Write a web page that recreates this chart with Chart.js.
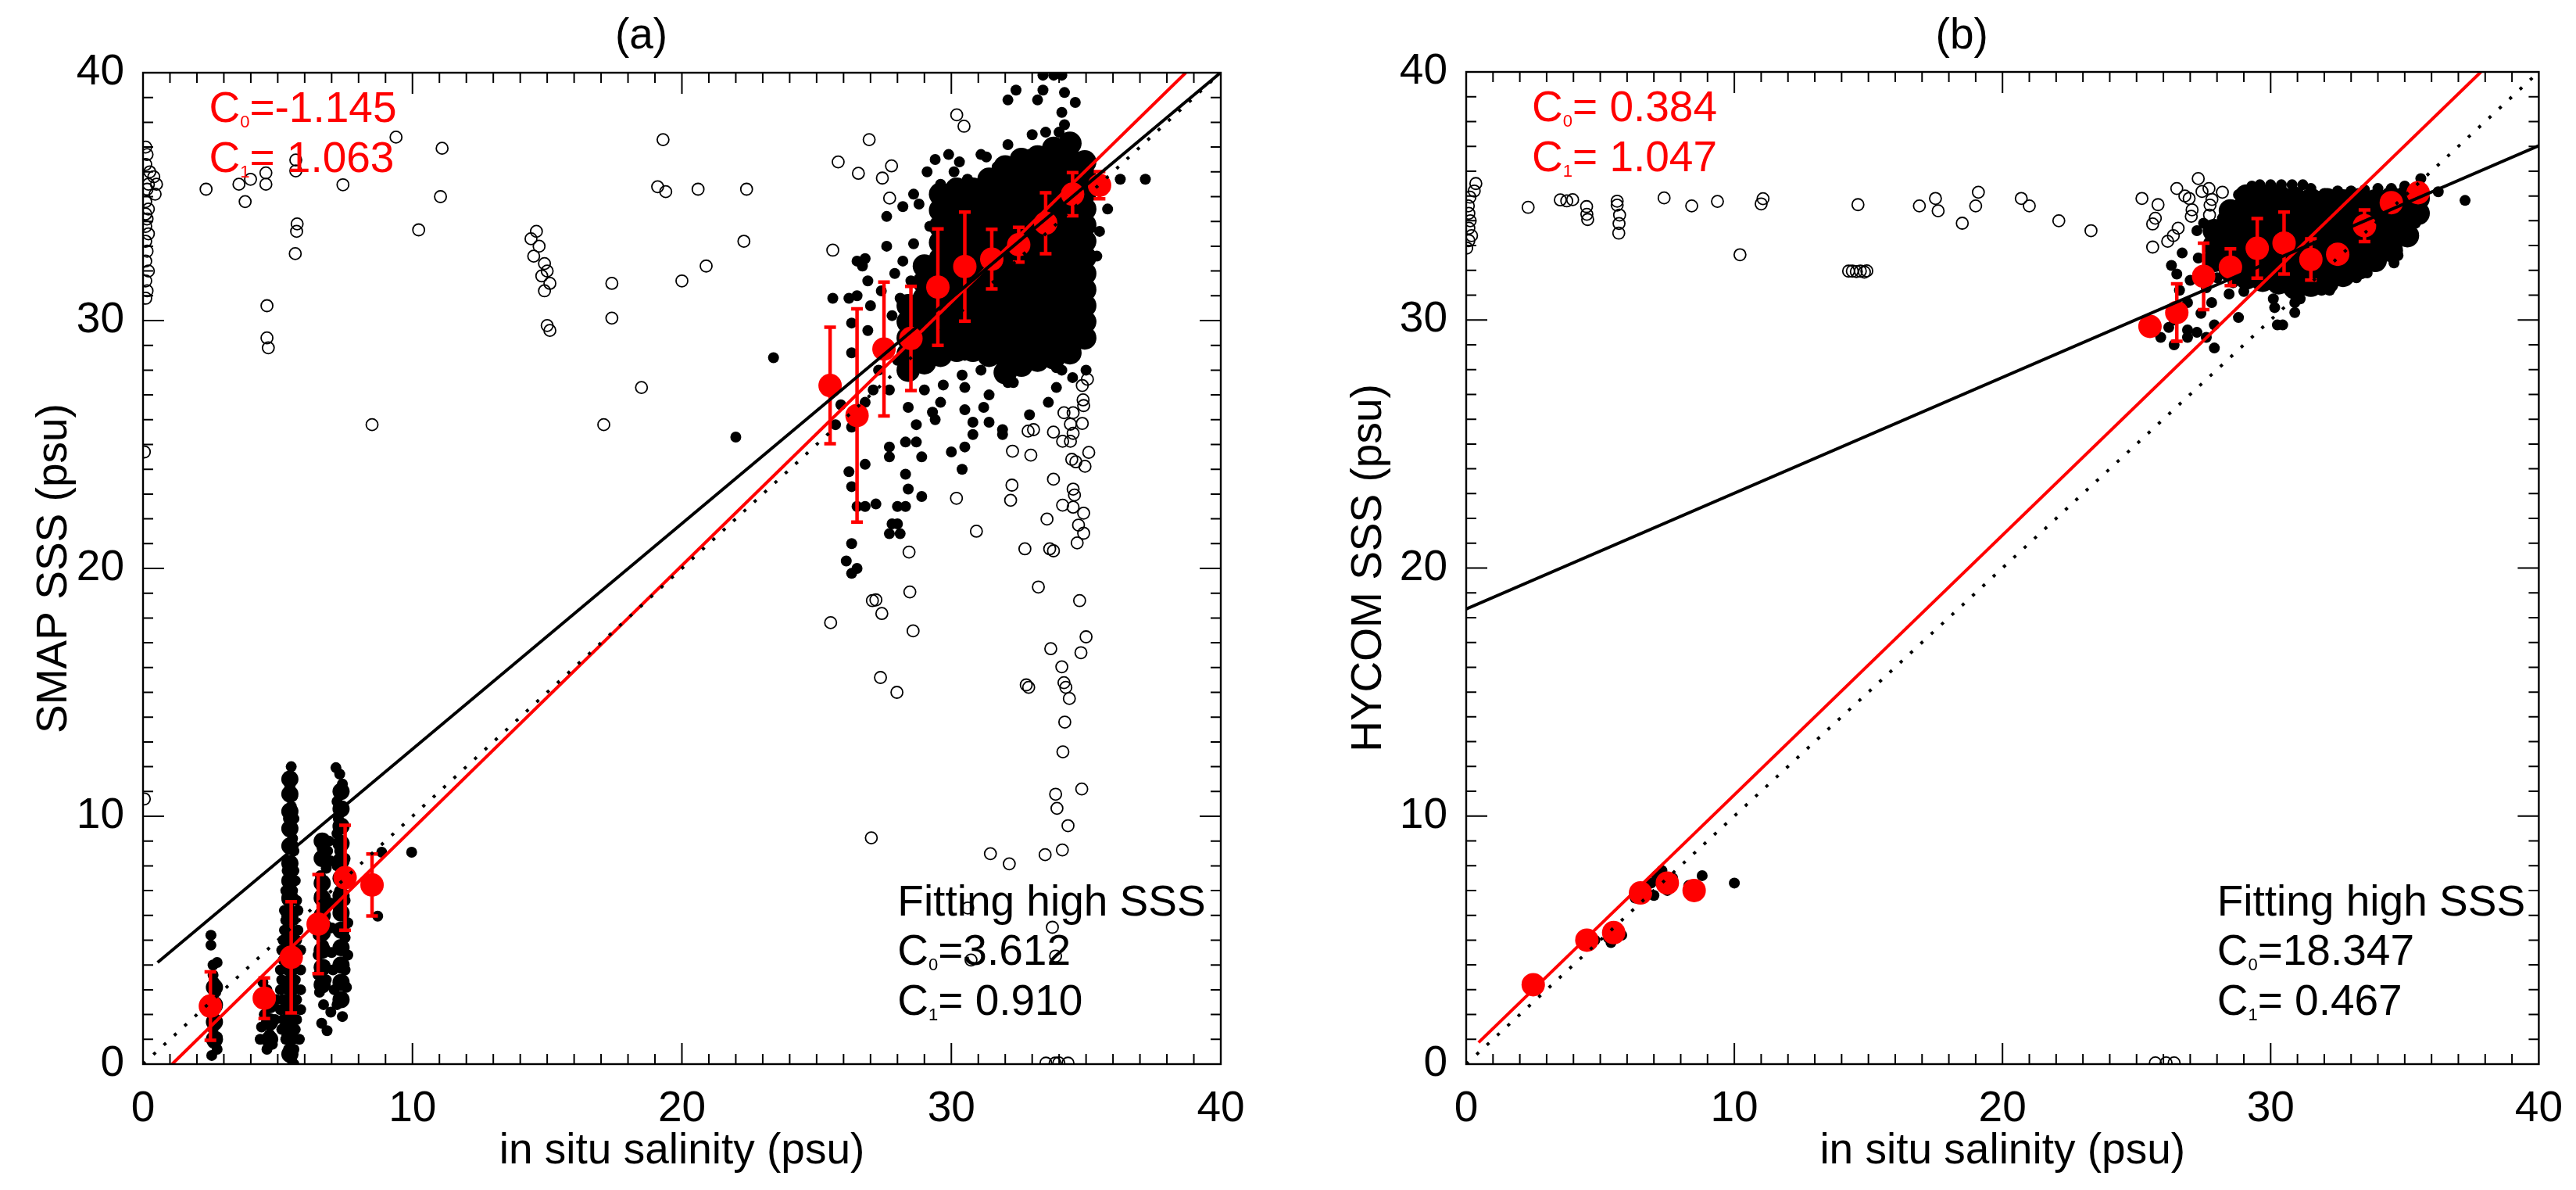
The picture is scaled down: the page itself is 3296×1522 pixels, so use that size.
<!DOCTYPE html>
<html>
<head>
<meta charset="utf-8">
<script src="https://cdn.jsdelivr.net/npm/chart.js@4.4.1/dist/chart.umd.min.js"></script>
<style>
  html, body { margin: 0; padding: 0; background: #fff; }
  body { width: 3296px; height: 1522px; position: relative; overflow: hidden; }
  .panel { position: absolute; top: 0; width: 1648px; height: 1522px; }
</style>
</head>
<body>
<div class="panel" style="left:0"><canvas id="chartA"></canvas></div>
<div class="panel" style="left:1648px"><canvas id="chartB"></canvas></div>
<script>
// ---- data (psu) ----
const binX = [2.5, 4.5, 5.5, 6.5, 7.5, 8.5, 25.5, 26.5, 27.5, 28.5, 29.5, 30.5, 31.5, 32.5, 33.5, 34.5, 35.5];

// panel (a): SMAP vs in situ
const binMeanA = [2.34, 2.66, 4.31, 5.65, 7.52, 7.23, 27.38, 26.17, 28.85, 29.28, 31.35, 32.18, 32.48, 33.06, 33.93, 35.1, 35.46];
const binSdA = [1.38, 0.82, 2.24, 2.0, 2.12, 1.25, 2.35, 4.3, 2.7, 2.1, 2.35, 2.2, 1.2, 0.7, 1.23, 0.87, 0.55];

const openA = [
  [0.1,37.0],[0.15,36.7],[0.1,36.3],[0.25,36.0],[0.4,35.8],[0.2,35.5],[0.5,35.5],[0.15,35.3],[0.45,35.1],[0.1,34.8],
  [0.2,34.5],[0.1,34.3],[0.15,34.1],[0.1,33.8],[0.2,33.5],[0.1,33.2],[0.15,32.8],[0.1,32.4],[0.2,32.0],[0.1,31.6],
  [0.15,31.2],[0.1,30.9],[0.05,24.7],[0.05,10.7],
  [2.34,35.3],[3.56,35.5],[3.79,34.8],[3.99,35.7],[4.56,35.96],[4.56,35.5],[4.6,30.6],[4.6,29.3],[4.65,28.9],
  [5.67,36.48],[5.67,36.04],[5.72,33.9],[5.7,33.6],[5.65,32.7],[7.42,35.48],[9.39,37.4],[10.23,33.66],[11.1,36.95],
  [11.04,35.0],[8.5,25.8],[14.6,33.6],[14.4,33.3],[14.7,33.0],[14.5,32.6],[14.9,32.3],[15.0,32.0],[14.8,31.8],
  [15.1,31.5],[14.9,31.2],[15.0,29.8],[15.1,29.6],[17.1,25.8],[17.4,30.1],[17.4,31.5],[18.5,27.3],[19.1,35.4],
  [19.4,35.2],[19.3,37.3],[20.0,31.6],[20.6,35.3],[20.9,32.2],[22.3,33.2],[22.4,35.3],
  [30.2,38.3],[30.47,37.84],[26.95,37.3],[25.8,36.4],[26.55,35.94],[27.78,36.24],[27.44,35.75],[27.71,34.94],[25.6,32.84],
  [34.86,27.38],[35.05,27.63],[34.89,26.8],[34.91,26.57],[34.18,26.28],[34.52,26.28],[34.86,25.85],[34.42,25.82],
  [33.79,25.5],[34.52,25.45],[34.13,25.13],[34.42,25.13],[32.85,25.54],[33.05,25.6],[35.1,24.68],[34.47,24.4],
  [34.62,24.3],[34.96,24.12],[33.79,23.6],[34.52,23.2],[34.57,22.96],[34.13,22.55],[34.52,22.47],[34.91,22.23],
  [33.55,21.99],[34.72,21.75],[34.91,21.42],[34.67,21.03],[33.65,20.79],[33.79,20.71],[32.73,20.79],[33.23,19.25],
  [34.76,18.7],[35.0,17.24],[33.69,16.76],[34.81,16.6],[34.1,16.03],[34.18,15.39],[32.78,15.3],[32.27,24.73],
  [32.95,24.57],[32.25,23.36],[32.2,22.75],[30.19,22.83],[30.93,21.5],[28.43,20.66],[28.46,19.05],[27.07,18.7],
  [27.2,18.73],[27.42,18.18],[25.52,17.81],[28.58,17.48],[27.37,15.6],[27.98,15.0],
  [34.38,14.75],[34.21,13.8],[34.14,12.6],[34.84,11.1],[33.87,10.89],[33.92,10.32],[34.33,9.62],[27.03,9.13],
  [31.45,8.49],[32.15,8.08],[33.48,8.45],[34.12,8.64],[30.61,6.3],[33.75,5.52],[30.73,4.2],[33.87,4.36],
  [33.51,0.04],[33.85,0.04],[33.99,0.05],[34.33,0.04],[32.87,15.2],[34.25,15.2]
];

const dotsA = [
  // x ~ 2.5
  [2.52,5.2],[2.52,4.8],[2.6,4.0],[2.75,4.1],[2.6,3.6],[2.65,3.3],[2.7,2.9],[2.6,2.6],[2.75,2.3],[2.6,2.0],
  [2.7,1.7],[2.6,1.4],[2.75,1.1],[2.6,0.85],[2.55,0.35],[2.75,0.6],
  // x ~ 4.5
  [4.35,1.0],[4.4,1.5],[4.5,2.0],[4.55,2.5],[4.6,3.0],[4.45,3.3],[4.7,1.2],[4.8,0.8],[4.9,1.8],[4.95,2.6],[4.6,0.6],
  // x ~ 5.5
  [5.5,12.0],[5.5,11.6],[5.45,11.2],[5.55,10.8],[5.5,10.4],[5.4,9.9],[5.6,9.9],[5.45,9.5],[5.55,9.1],[5.4,8.7],
  [5.6,8.6],[5.5,8.2],[5.35,7.8],[5.6,7.8],[5.4,7.4],[5.65,7.4],[5.3,7.0],[5.55,7.0],[5.35,6.6],[5.7,6.6],
  [5.25,6.2],[5.5,6.2],[5.75,6.2],[5.3,5.8],[5.6,5.8],[5.25,5.4],[5.5,5.4],[5.75,5.4],[5.2,5.0],[5.45,5.0],
  [5.7,5.0],[5.15,4.6],[5.4,4.6],[5.65,4.6],[5.85,4.6],[5.2,4.2],[5.45,4.2],[5.7,4.2],[5.1,3.8],[5.35,3.8],
  [5.6,3.8],[5.85,3.8],[5.15,3.4],[5.4,3.4],[5.65,3.4],[5.1,3.0],[5.35,3.0],[5.6,3.0],[5.85,3.0],[5.2,2.6],
  [5.45,2.6],[5.7,2.6],[5.1,2.2],[5.35,2.2],[5.6,2.2],[5.85,2.2],[5.2,1.8],[5.45,1.8],[5.7,1.8],[5.15,1.4],
  [5.4,1.4],[5.65,1.4],[5.3,1.0],[5.55,1.0],[5.8,1.0],[5.4,0.6],[5.6,0.6],[5.5,0.2],[5.6,0.0],
  // x ~ 6.5 - 7.5
  [6.58,7.6],[6.7,7.2],[6.55,6.8],[6.75,6.4],[6.55,6.0],[6.8,5.6],[6.5,5.2],[6.7,4.8],[6.5,4.4],[6.75,4.0],
  [6.5,3.6],[6.6,3.2],[6.55,2.9],[6.8,3.4],[6.63,1.65],[6.83,1.35],[6.97,2.1],[6.7,2.4],
  [6.7,9.1],[6.9,9.0],[6.65,8.7],[6.85,8.6],[6.7,8.3],[6.95,8.2],[6.8,7.9],
  [7.16,11.96],[7.3,11.7],[7.4,11.3],[7.35,11.0],[7.2,10.6],[7.4,10.3],[7.25,9.9],[7.45,9.6],[7.2,9.3],[7.4,9.0],
  [7.3,8.6],[7.5,8.3],[7.2,8.0],[7.4,7.7],[7.55,7.3],[7.3,7.0],[7.5,6.6],[7.25,6.3],[7.45,6.0],[7.6,5.7],
  [7.3,5.4],[7.5,5.1],[7.35,4.7],[7.6,4.4],[7.3,4.1],[7.5,3.8],[7.35,3.4],[7.55,3.1],[7.4,2.7],[7.2,2.4],
  [7.4,1.92],[7.1,3.0],[7.0,4.5],[7.0,5.5],[6.95,6.5],[7.05,3.8],
  [8.71,5.97],[8.86,8.55],[9.97,8.55],
  // high salinity cloud
  [33.4,39.9],[33.8,39.9],[34.1,39.9],[32.4,39.3],[32.1,38.9],[33.2,38.9],[33.4,39.3],[34.2,39.2],[34.6,38.8],
  [34.1,38.4],[34.2,37.9],[34.0,37.6],[29.9,36.7],[31.1,36.7],[31.3,36.6],[31.7,36.2],[32.1,37.1],[33.0,37.5],
  [33.5,37.6],[32.9,36.7],[36.27,35.7],[37.2,35.7],[35.8,34.5],[35.5,33.6],[35.4,32.6],[28.6,35.1],[28.8,34.7],
  [27.6,33.0],[26.8,32.5],[26.5,32.4],[26.7,32.2],[25.6,30.9],[26.2,30.9],[26.5,31.0],[26.9,31.6],[26.3,28.7],
  [25.9,26.6],[25.7,25.8],[26.3,25.7],[26.8,26.7],[27.1,27.2],[27.7,27.2],[27.7,24.9],[27.7,24.5],[28.3,25.1],
  [28.7,25.1],[28.9,24.5],[28.4,26.5],[28.7,25.8],[29.3,26.3],[29.6,26.7],[29.4,26.0],[29.0,27.2],[29.7,27.4],
  [30.4,27.8],[30.5,27.3],[30.5,28.6],[31.1,28.0],[31.4,27.0],[30.5,26.4],[30.8,25.9],[30.8,25.4],[31.4,25.9],
  [31.9,25.6],[31.9,25.4],[31.2,26.5],[30.0,24.7],[30.5,24.9],[30.4,24.0],[26.2,23.9],[26.8,24.2],[26.3,23.3],
  [26.5,22.5],[26.8,22.5],[27.2,22.6],[27.8,21.8],[28.0,21.8],[27.7,21.4],[28.1,21.4],[28.0,22.5],[28.3,22.5],
  [28.3,23.8],[28.4,23.2],[28.9,22.9],[26.3,21.0],[26.1,20.3],[26.3,19.8],[26.5,20.0],[33.6,26.7],[33.9,27.3],
  [32.9,26.2],[33.9,28.1],[34.1,28.0],[34.5,27.7],[35.0,28.0],[34.5,28.6],[32.1,27.5],[32.1,28.1],[32.4,28.1],
  [32.0,29.1],[32.9,28.7],[31.7,29.0],[31.6,29.8],[30.8,29.4],[22.0,25.3],[23.4,28.5],
  [27.9,31.9],[28.2,32.4],[28.6,33.1],[28.1,30.9],[28.5,31.6],[27.8,30.2],[28.3,29.6],[27.6,29.0],[28.0,28.4],
  [28.6,28.0],[27.4,31.2],[27.3,28.0],[28.9,29.2],[29.2,30.1],[29.2,33.8],[29.6,35.5],[29.1,36.0],[30.1,36.0],
  [30.6,35.7],[31.3,35.9],[26.9,29.6],[27.0,30.6],[26.3,29.9],[27.6,34.2],[28.2,34.6],[29.4,36.5],[30.3,36.4],
  [32.0,28.4],[32.2,27.9],[32.3,27.5]
];

// solid parts of the clouds, drawn with larger marks: one x per column, the y values of that column
const denseAx = [28.4, 29.0, 29.6, 30.2, 30.8, 31.4, 32.0, 32.6, 33.2, 33.8, 34.4, 34.95];
const denseAy = [
  [28.0, 28.65, 29.3, 29.95, 30.6],
  [28.3, 28.95, 29.6, 30.25, 30.9, 31.55, 32.2],
  [28.6, 29.25, 29.9, 30.55, 31.2, 31.85, 32.5, 33.15, 33.8, 34.45, 35.1],
  [28.8, 29.45, 30.1, 30.75, 31.4, 32.05, 32.7, 33.35, 34.0, 34.65, 35.3],
  [28.8, 29.45, 30.1, 30.75, 31.4, 32.05, 32.7, 33.35, 34.0, 34.65, 35.3],
  [28.6, 29.25, 29.9, 30.55, 31.2, 31.85, 32.5, 33.15, 33.8, 34.45, 35.1, 35.7],
  [27.9, 28.55, 29.2, 29.85, 30.5, 31.15, 31.8, 32.45, 33.1, 33.75, 34.4, 35.05, 35.7, 36.2],
  [28.2, 28.85, 29.5, 30.15, 30.8, 31.45, 32.1, 32.75, 33.4, 34.05, 34.7, 35.35, 36.0, 36.5],
  [28.4, 29.05, 29.7, 30.35, 31.0, 31.65, 32.3, 32.95, 33.6, 34.25, 34.9, 35.55, 36.2, 36.6],
  [28.5, 29.15, 29.8, 30.45, 31.1, 31.75, 32.4, 33.05, 33.7, 34.35, 35.0, 35.65, 36.3, 36.95],
  [28.7, 29.35, 30.0, 30.65, 31.3, 31.95, 32.6, 33.25, 33.9, 34.55, 35.2, 35.85, 36.5, 37.15],
  [29.3, 29.95, 30.6, 31.25, 31.9, 32.55, 33.2, 33.85, 34.5, 35.15, 35.8, 36.4]
];
// solid low-salinity columns of panel (a)
const denseLowAx = [2.65, 4.7, 5.45, 6.65, 7.35];
const denseLowAy = [
  [1.0, 1.7, 2.4, 3.1],
  [1.0, 1.7, 2.4],
  [0.4, 1.1, 1.8, 2.5, 3.2, 3.9, 4.6, 5.3, 6.0, 6.7, 7.4, 8.1, 8.8, 9.5, 10.2, 10.9, 11.5],
  [3.2, 3.9, 4.6, 5.3, 6.0, 6.7, 7.3, 8.3, 9.0],
  [2.6, 3.3, 4.0, 4.7, 5.4, 6.1, 6.8, 7.5, 8.2, 8.9, 9.6, 10.3, 11.0]
];

// panel (b): HYCOM vs in situ
const binMeanB = [3.2, 5.0, 5.3, 6.9, 7.3, 7.0, 29.74, 30.3, 31.76, 32.13, 32.89, 33.1, 32.44, 32.65, 33.8, 34.73, 35.13];
const binSdB = [0.1, 0.1, 0.15, 0.2, 0.2, 0.15, 0.15, 1.16, 1.34, 0.74, 1.2, 1.25, 0.83, 0.3, 0.64, 0.3, 0.3];

const openB = [
  [0.36,35.5],[0.3,35.2],[0.14,34.95],[0.08,34.6],[0.1,34.3],[0.15,34.0],[0.1,33.7],[0.2,33.4],[0.02,32.9],[0.1,33.2],
  [2.31,34.54],[3.51,34.84],[3.75,34.8],[3.97,34.85],[4.49,34.57],[4.5,34.26],[4.53,34.05],[5.63,34.79],[5.63,34.63],
  [5.72,34.23],[5.7,33.89],[5.69,33.5],[7.38,34.92],[8.41,34.6],[9.37,34.78],[10.21,32.63],[11.07,34.89],[11.0,34.68],
  [14.26,31.97],[14.4,31.97],[14.55,31.95],[14.7,31.97],[14.85,31.93],[14.94,31.98],[14.61,34.65],[16.9,34.6],
  [17.5,34.9],[17.6,34.4],[18.5,33.9],[19.1,35.15],[19.0,34.6],[20.7,34.9],[21.0,34.6],[22.1,34.0],[23.3,33.6],
  [25.2,34.9],[25.7,34.1],[26.5,35.3],[26.8,35.0],[27.3,35.7],[27.7,35.3],[28.2,35.15],
  [25.8,34.65],[25.6,33.87],[25.6,32.94],[26.16,33.17],[26.37,33.4],[26.55,33.7],[26.96,34.9],[27.07,34.44],
  [27.04,34.18],[27.44,35.18],[27.81,34.86],[27.74,34.63],[27.72,34.23],
  [25.7,0.05],[26.1,0.05],[26.4,0.05]
];

const dotsB = [
  [2.5,3.3],[2.6,3.1],[4.3,5.0],[4.8,5.0],[4.6,5.2],[5.3,5.1],[5.8,5.2],[5.6,5.5],[5.4,4.9],[6.3,6.7],[6.6,7.0],
  [6.9,7.3],[7.0,6.8],[7.1,7.6],[7.3,7.8],[7.7,7.5],[7.5,7.0],[8.3,7.2],[8.8,7.6],[8.6,6.8],[10.0,7.3],
  [28.8,35.05],[28.8,34.5],[27.25,33.6],[26.7,32.7],[26.3,32.2],[26.5,31.85],[27.8,30.7],[27.4,30.27],[28.45,31.05],
  [29.0,31.15],[28.8,30.1],[27.9,29.8],[27.9,28.87],[27.6,29.3],[27.25,29.5],[26.9,29.3],[26.4,29.0],[30.1,30.85],
  [30.15,30.5],[30.9,30.7],[30.9,30.3],[30.25,29.8],[30.45,29.8],[33.6,31.9],[34.75,32.6],[34.5,32.7],[36.25,35.17],
  [37.25,34.82],[29.8,31.4],[31.3,31.2],[31.9,31.2],[29.0,31.8],[26.2,29.7],[25.9,29.3],[26.9,29.6],
  [29.3,35.4],[29.6,35.45],[30.0,35.45],[30.4,35.45],[30.8,35.45],[31.2,35.45],[31.5,35.3],[32.0,35.1],[32.5,35.2],
  [33.0,35.2],[33.5,35.25],[34.0,35.3],[34.5,35.3],[35.0,35.4],[35.6,35.7],[35.7,34.4],[35.4,33.9],[35.0,33.4],
  [34.6,32.3],[33.2,31.7],[32.2,31.2],[31.1,30.85],[28.0,31.7],[27.6,31.3],[26.9,30.7],[26.4,30.0],[27.5,33.9],
  [28.2,34.1],[27.9,33.3],[27.3,32.5],[27.0,31.6],[26.6,31.2],[28.5,32.5],[28.6,31.5]
];

const denseBx = [27.9, 28.5, 29.1, 29.7, 30.3, 30.9, 31.5, 32.1, 32.7, 33.3, 33.9, 34.5, 35.1, 35.5];
const denseBy = [
  [32.4, 33.0, 33.6],
  [32.0, 32.6, 33.2, 33.8, 34.4],
  [31.7, 32.3, 32.9, 33.5, 34.1, 34.7, 35.0],
  [31.6, 32.2, 32.8, 33.4, 34.0, 34.6, 35.0],
  [31.5, 32.1, 32.7, 33.3, 33.9, 34.5, 35.0],
  [31.3, 31.9, 32.5, 33.1, 33.7, 34.3, 34.9],
  [31.4, 32.0, 32.6, 33.2, 33.8, 34.4, 34.85],
  [31.5, 32.1, 32.7, 33.3, 33.9, 34.5, 34.85],
  [31.8, 32.4, 33.0, 33.6, 34.2, 34.8],
  [32.1, 32.7, 33.3, 33.9, 34.5, 34.85],
  [32.4, 33.0, 33.6, 34.2, 34.8],
  [32.8, 33.4, 34.0, 34.6, 34.9],
  [33.4, 34.0, 34.6, 35.0],
  [34.3, 34.9]
];

// fitted lines (end points), and the 1:1 line
const oneToOne = [[0, 0], [40, 40]];
const redLineA = [[1.08, 0], [38.7, 40]];
const blackLineA = [[0.54, 4.1], [40, 40.01]];
const redLineB = [[0.46, 0.87], [37.84, 40]];
const blackLineB = [[0, 18.35], [40, 37.03]];

// ---- drawing ----
const FONT = '"Liberation Sans", Arial, Helvetica, sans-serif';
Chart.defaults.font.family = FONT;
Chart.defaults.color = '#000';

const xy = arr => arr.map(p => ({ x: p[0], y: p[1] }));
const cols = (xs, ys) => xs.flatMap((x, i) => ys[i].map(y => ({ x, y })));

// IDL-style box with inward ticks on all four sides
const frameTicks = {
  id: 'frameTicks',
  afterDraw(chart) {
    const { ctx, chartArea: a, scales: { x, y } } = chart;
    ctx.save();
    ctx.strokeStyle = '#000';
    ctx.lineWidth = 2.4;
    ctx.strokeRect(a.left, a.top, a.right - a.left, a.bottom - a.top);
    ctx.lineWidth = 2;
    ctx.beginPath();
    for (let v = 1; v < 40; v++) {
      const len = v % 10 === 0 ? 27 : 13;
      const px = x.getPixelForValue(v), py = y.getPixelForValue(v);
      ctx.moveTo(px, a.bottom); ctx.lineTo(px, a.bottom - len);
      ctx.moveTo(px, a.top); ctx.lineTo(px, a.top + len);
      ctx.moveTo(a.left, py); ctx.lineTo(a.left + len, py);
      ctx.moveTo(a.right, py); ctx.lineTo(a.right - len, py);
    }
    ctx.stroke();
    ctx.restore();
  }
};

const errorBars = {
  id: 'errorBars',
  beforeDatasetDraw(chart, args, opts) {
    const ds = chart.data.datasets[args.index];
    if (ds.label !== 'bins') return;
    const { ctx, scales: { x, y } } = chart;
    ctx.save();
    ctx.strokeStyle = '#ff0000';
    ctx.lineWidth = 4.5;
    ds.data.forEach((p, i) => {
      const sd = opts.sd[i];
      const px = x.getPixelForValue(p.x);
      const top = y.getPixelForValue(p.y + sd), bot = y.getPixelForValue(p.y - sd);
      ctx.beginPath();
      ctx.moveTo(px, top); ctx.lineTo(px, bot);
      ctx.moveTo(px - 7.5, top); ctx.lineTo(px + 7.5, top);
      ctx.moveTo(px - 7.5, bot); ctx.lineTo(px + 7.5, bot);
      ctx.stroke();
    });
    ctx.restore();
  }
};

// panel letter and the coefficient notes
function coefText(ctx, px, py, sub, rest) {
  ctx.font = '55px ' + FONT;
  ctx.fillText('C', px, py);
  let w = ctx.measureText('C').width;
  ctx.font = '22px ' + FONT;
  ctx.fillText(sub, px + w, py + 7);
  w += ctx.measureText(sub).width;
  ctx.font = '55px ' + FONT;
  ctx.fillText(rest, px + w, py);
}

const notes = {
  id: 'notes',
  afterDraw(chart, args, o) {
    const { ctx, scales: { x, y } } = chart;
    ctx.save();
    ctx.textBaseline = 'alphabetic';
    ctx.textAlign = 'center';
    ctx.fillStyle = '#000';
    ctx.font = '55px ' + FONT;
    ctx.fillText(o.title, (chart.chartArea.left + chart.chartArea.right) / 2 - 52, 62);
    ctx.textAlign = 'left';
    ctx.fillStyle = '#ff0000';
    const rx = x.getPixelForValue(o.redAt[0]);
    o.red.forEach((c, i) => coefText(ctx, rx, y.getPixelForValue(o.redAt[i + 1]), c[0], c[1]));
    ctx.fillStyle = '#000';
    const bx = x.getPixelForValue(o.blackAt[0]);
    ctx.font = '55px ' + FONT;
    ctx.fillText(o.head, bx, y.getPixelForValue(o.blackAt[1]));
    o.black.forEach((c, i) => coefText(ctx, bx, y.getPixelForValue(o.blackAt[i + 2]), c[0], c[1]));
    ctx.restore();
  }
};

function lineSet(pts, color, dash) {
  return {
    type: 'line', data: xy(pts), borderColor: color, borderWidth: 4,
    borderDash: dash || [], pointRadius: 0, showLine: true, fill: false, order: 0, clip: 0
  };
}

function makePanel(id, p) {
  new Chart(document.getElementById(id), {
    type: 'scatter',
    data: {
      datasets: [
        lineSet(oneToOne, '#000', [4, 14]),
        lineSet(p.black, '#000'),
        lineSet(p.red, '#ff0000'),
        { label: 'bins', data: binX.map((v, i) => ({ x: v, y: p.mean[i] })), pointRadius: 15,
          backgroundColor: '#ff0000', borderWidth: 0, order: 1, clip: 0 },
        { label: 'dense', data: p.dense, pointRadius: 15, backgroundColor: '#000', borderWidth: 0, order: 2, clip: 0 },
        { label: 'denseLow', data: p.denseLow, pointRadius: 11, backgroundColor: '#000', borderWidth: 0, order: 2, clip: 0 },
        { label: 'dots', data: xy(p.dots), pointRadius: 7, backgroundColor: '#000', borderWidth: 0, order: 2, clip: 0 },
        { label: 'open', data: xy(p.open), pointRadius: 7.5, backgroundColor: 'rgba(0,0,0,0)',
          borderColor: '#000', borderWidth: 1.8, order: 3, clip: 0 }
      ]
    },
    options: {
      responsive: true,
      maintainAspectRatio: false,
      animation: false,
      devicePixelRatio: 1,
      events: [],
      layout: { padding: { top: p.top, right: p.right, left: 0, bottom: 0 } },
      scales: {
        x: {
          type: 'linear', min: 0, max: 40,
          grid: { display: false }, border: { display: false },
          ticks: { stepSize: 10, font: { size: 55 }, padding: 17, maxRotation: 0 },
          title: { display: true, text: 'in situ salinity (psu)', font: { size: 55 }, padding: { top: 0, bottom: 16 } },
          afterFit: s => { s.height = 161; }
        },
        y: {
          type: 'linear', min: 0, max: 40,
          grid: { display: false }, border: { display: false },
          ticks: { stepSize: 10, font: { size: 55 }, padding: 16 },
          title: { display: true, text: p.ytitle, font: { size: 55 }, padding: { top: p.ytpad, bottom: 0 } },
          afterFit: s => { s.width = p.yw; }
        }
      },
      plugins: {
        legend: { display: false },
        tooltip: { enabled: false },
        errorBars: { sd: p.sd },
        notes: p.notes
      }
    },
    plugins: [errorBars, frameTicks, notes]
  });
}

makePanel('chartA', {
  open: openA, dots: dotsA, dense: cols(denseAx, denseAy), denseLow: cols(denseLowAx, denseLowAy),
  mean: binMeanA, sd: binSdA, red: redLineA, black: blackLineA,
  top: 93, right: 86, yw: 183, ytpad: 37, ytitle: 'SMAP SSS (psu)',
  notes: { title: '(a)', redAt: [2.45, 38, 36], red: [['0', '=-1.145'], ['1', '= 1.063']],
           head: 'Fitting high SSS', blackAt: [28, 6, 4, 2], black: [['0', '=3.612'], ['1', '= 0.910']] }
});

makePanel('chartB', {
  open: openB, dots: dotsB, dense: cols(denseBx, denseBy), denseLow: [],
  mean: binMeanB, sd: binSdB, red: redLineB, black: blackLineB,
  top: 92, right: 44, yw: 228, ytpad: 71, ytitle: 'HYCOM SSS (psu)',
  notes: { title: '(b)', redAt: [2.45, 38, 36], red: [['0', '= 0.384'], ['1', '= 1.047']],
           head: 'Fitting high SSS', blackAt: [28, 6, 4, 2], black: [['0', '=18.347'], ['1', '= 0.467']] }
});
</script>
</body>
</html>
